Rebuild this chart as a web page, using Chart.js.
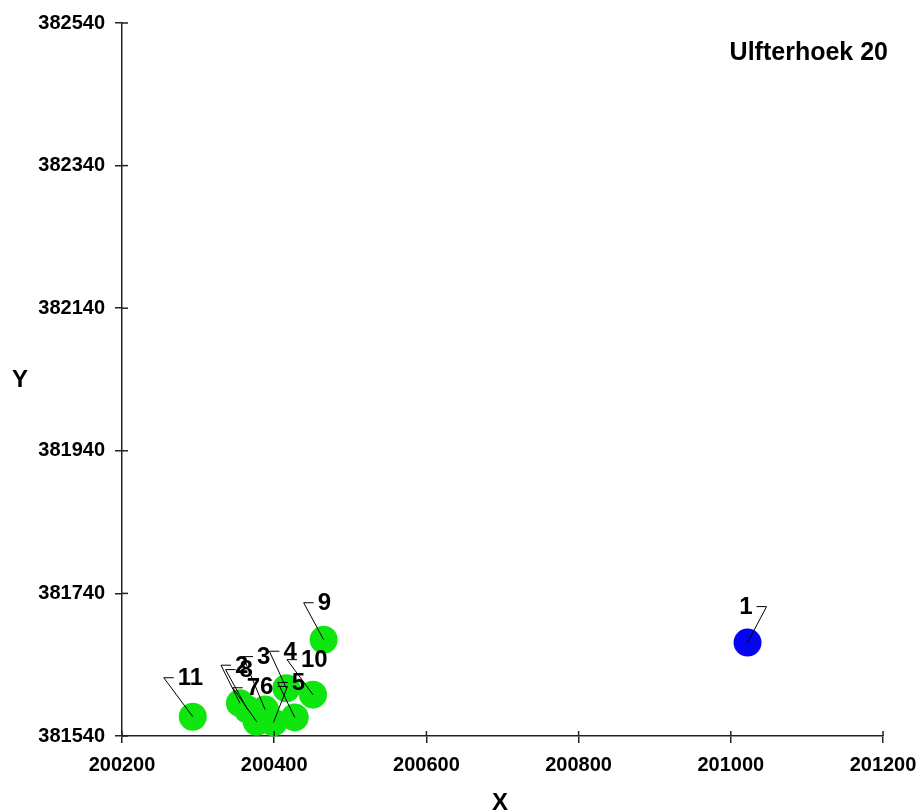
<!DOCTYPE html>
<html>
<head>
<meta charset="utf-8">
<script src="https://cdn.jsdelivr.net/npm/chart.js@4/dist/chart.umd.min.js"></script>
<style>
  html, body { margin: 0; padding: 0; background: #fff; }
  #wrap { width: 919px; height: 812px; }
</style>
</head>
<body>
<div id="wrap"><canvas id="main-chart" width="919" height="812"></canvas></div>
<script>
const chartTitle = 'Ulfterhoek 20';
const pointIds = ['1', '2', '3', '4', '5', '6', '7', '8', '9', '10', '11'];
const xValues = [201022, 200355, 200388, 200416, 200427, 200399, 200377, 200365, 200465, 200451, 200293];
const yValues = [381671, 381586, 381577, 381607, 381566, 381559, 381560, 381577, 381675, 381598, 381567];
const xTicks = [200200, 200400, 200600, 200800, 201000, 201200];
const yTicks = [381540, 381740, 381940, 382140, 382340, 382540];

// label leader: corner offset from point (px) and side of the text
const labelLayout = [
  [19, -36, 'left'], [-19, -38, 'right'], [-22, -53, 'right'], [-17, -37, 'right'],
  [-17, -35, 'right'], [14, -36, 'left'], [-24, -34, 'right'], [-22, -40, 'right'],
  [-20, -37, 'right'], [-26, -35, 'right'], [-29, -39, 'right'],
];
const pointColors = pointIds.map((id) => (id === '1' ? '#0505f0' : '#0fe60f'));

const FONT = '"Liberation Sans", Arial, sans-serif';
const AXIS = '#222222';

const overlay = {
  id: 'overlay',
  afterDraw(chart) {
    const { ctx, chartArea, scales } = chart;
    ctx.save();

    // inner half of the tick marks
    ctx.strokeStyle = AXIS;
    ctx.lineWidth = 1.5;
    yTicks.forEach((v) => {
      const y = scales.y.getPixelForValue(v);
      ctx.beginPath();
      ctx.moveTo(chartArea.left, y);
      ctx.lineTo(chartArea.left + 6, y);
      ctx.stroke();
    });
    xTicks.forEach((v) => {
      const x = scales.x.getPixelForValue(v);
      ctx.beginPath();
      ctx.moveTo(x, chartArea.bottom);
      ctx.lineTo(x, chartArea.bottom - 5);
      ctx.stroke();
    });

    // point labels with leader lines
    ctx.strokeStyle = '#000';
    ctx.lineWidth = 1;
    ctx.fillStyle = '#000';
    ctx.font = 'bold 24px ' + FONT;
    ctx.textBaseline = 'middle';
    pointIds.forEach((id, i) => {
      const px = scales.x.getPixelForValue(xValues[i]);
      const py = scales.y.getPixelForValue(yValues[i]);
      const [dx, dy, side] = labelLayout[i];
      const cx = px + dx;
      const cy = py + dy;
      const dir = side === 'right' ? 1 : -1;
      ctx.beginPath();
      ctx.moveTo(px, py);
      ctx.lineTo(cx, cy);
      ctx.lineTo(cx + dir * 10, cy);
      ctx.stroke();
      ctx.textAlign = side === 'right' ? 'left' : 'right';
      ctx.fillText(id, cx + dir * 14, cy + 1);
    });

    // titles
    ctx.fillStyle = '#000';
    ctx.font = 'bold 25px ' + FONT;
    ctx.textAlign = 'right';
    ctx.textBaseline = 'alphabetic';
    ctx.fillText(chartTitle, 888, 60);

    ctx.font = 'bold 24px ' + FONT;
    ctx.textAlign = 'center';
    ctx.fillText('Y', 20, 387);
    ctx.fillText('X', 500, 810);
    ctx.restore();
  },
};

function axisOptions(min, max, ticks) {
  return {
    type: 'linear',
    min: min,
    max: max,
    afterBuildTicks: (scale) => {
      scale.ticks = ticks.map((v) => ({ value: v }));
    },
    ticks: {
      color: '#000',
      font: { family: FONT, size: 20, weight: 'bold' },
      padding: 10,
      callback: (v) => String(v),
    },
    grid: {
      drawOnChartArea: false,
      drawTicks: true,
      tickLength: 7,
      color: AXIS,
      lineWidth: 1.5,
    },
    border: { display: true, color: AXIS, width: 1.5 },
  };
}

const xAxis = axisOptions(200200, 201200, xTicks);
xAxis.afterFit = (scale) => {
  scale.height = 76;
  scale.paddingLeft = 0;
  scale.paddingRight = 0;
};
const yAxis = axisOptions(381540, 382540, yTicks);
yAxis.afterFit = (scale) => {
  scale.width = 122;
  scale.paddingTop = 0;
  scale.paddingBottom = 0;
};

new Chart(document.getElementById('main-chart').getContext('2d'), {
  type: 'scatter',
  data: {
    datasets: [
      {
        data: xValues.map((x, i) => ({ x: x, y: yValues[i] })),
        backgroundColor: pointColors,
        borderWidth: 0,
        pointRadius: 14,
        pointHoverRadius: 14,
        clip: false,
      },
    ],
  },
  options: {
    responsive: false,
    devicePixelRatio: 1,
    animation: false,
    layout: { padding: { top: 23, right: 36, left: 0, bottom: 0 } },
    scales: { x: xAxis, y: yAxis },
    plugins: {
      legend: { display: false },
      tooltip: { enabled: false },
      title: { display: false },
    },
  },
  plugins: [overlay],
});
</script>
</body>
</html>
